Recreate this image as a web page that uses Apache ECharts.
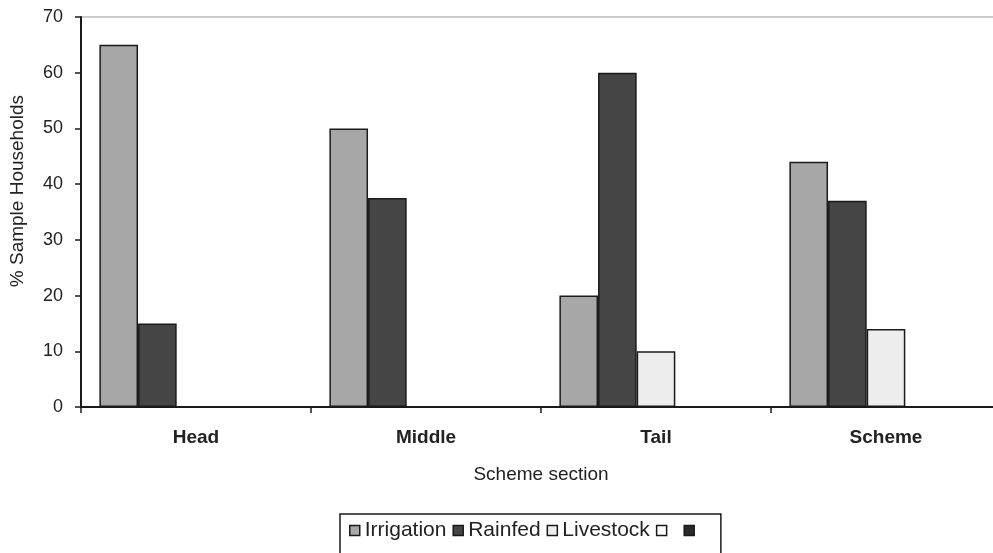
<!DOCTYPE html>
<html>
<head>
<meta charset="utf-8">
<script src="https://cdn.jsdelivr.net/npm/echarts@6/dist/echarts.min.js"></script>
<style>html,body{margin:0;padding:0;background:#fff;overflow:hidden;}#c{width:1010px;height:553px;}</style>
</head>
<body>
<div id="c"></div>
<script>
var categories = ['Head', 'Middle', 'Tail', 'Scheme'];
var irrigation = [65, 50, 20, 44];
var rainfed = [15, 37.5, 60, 37];
var livestock = [null, null, 10, 14];
var blankA = [null, null, null, null];
var blankB = [null, null, null, null];
var yTicks = [0, 10, 20, 30, 40, 50, 60, 70];

var font = 'Liberation Sans, Arial, sans-serif';
var chart = echarts.init(document.getElementById('c'), null, {renderer: 'canvas'});
var border = {borderColor: '#1a1a1a', borderWidth: 1.5};
function bar(name, data, color) {
  return {
    name: name, type: 'bar', data: data, barGap: 0, barCategoryGap: '16%',
    itemStyle: Object.assign({color: color}, border),
    emphasis: {disabled: true}
  };
}
chart.setOption({
  animation: false,
  backgroundColor: '#fff',
  grid: {left: 81, top: 17, right: 9, bottom: 146, show: true, borderColor: '#999', borderWidth: 1},
  xAxis: {
    type: 'category', data: categories,
    axisLine: {lineStyle: {color: '#1a1a1a', width: 2}},
    axisTick: {show: true, length: 6, lineStyle: {color: '#1a1a1a', width: 1.5}},
    axisLabel: {margin: 21, fontFamily: font, fontSize: 19, fontWeight: 'bold', color: '#222'},
    name: 'Scheme section', nameLocation: 'middle', nameGap: 58,
    nameTextStyle: {fontFamily: font, fontSize: 19, color: '#222'}
  },
  yAxis: {
    type: 'value', min: yTicks[0], max: yTicks[yTicks.length - 1], interval: 10,
    axisLine: {show: true, lineStyle: {color: '#1a1a1a', width: 2}},
    axisTick: {show: true, length: 6, lineStyle: {color: '#1a1a1a', width: 1.5}},
    splitLine: {show: false},
    axisLabel: {margin: 18, fontFamily: font, fontSize: 18, color: '#222'}
  },
  legend: {
    left: 340, top: 514, orient: 'horizontal',
    data: ['Irrigation', 'Rainfed', 'Livestock', ' ', '  '],
    icon: 'rect', itemWidth: 10, itemHeight: 10, itemGap: 6,
    padding: [6, 10, 30, 9],
    borderColor: '#1a1a1a', borderWidth: 1.5,
    itemStyle: {borderColor: '#1a1a1a', borderWidth: 1.5},
    textStyle: {fontFamily: font, fontSize: 21, color: '#222'}
  },
  graphic: [{
    type: 'text', left: 8, top: 95,
    style: {text: '% Sample Households', font: '19px ' + font, fill: '#222'},
    rotation: Math.PI / 2
  }],
  series: [
    bar('Irrigation', irrigation, '#a7a7a7'),
    bar('Rainfed', rainfed, '#454545'),
    bar('Livestock', livestock, '#ededed'),
    bar(' ', blankA, '#ffffff'),
    bar('  ', blankB, '#2a2a2a')
  ]
});
</script>
</body>
</html>
